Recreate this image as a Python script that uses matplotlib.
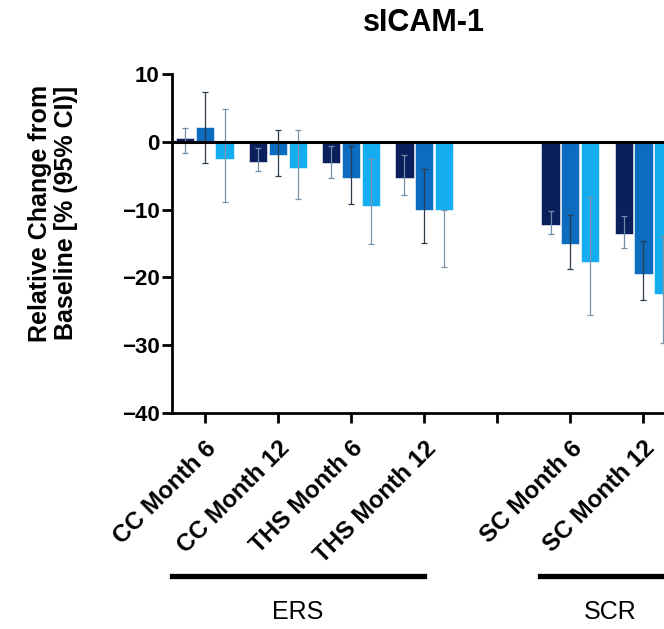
import numpy as np
import matplotlib
matplotlib.use("Agg")
import matplotlib.pyplot as plt

plt.rcParams['font.family'] = ['Liberation Sans', 'DejaVu Sans']

groups = ['CC Month 6', 'CC Month 12', 'THS Month 6', 'THS Month 12', '', 'SC Month 6', 'SC Month 12']
bar_groups = [0, 1, 2, 3, 5, 6]   # slot 4 is the empty gap between ERS and SCR

# relative change from baseline (%) for the three bar series
vals_1 = [0.5, -3.0, -3.2, -5.3, -12.3, -13.6]
vals_2 = [2.2, -2.0, -5.3, -10.0, -15.1, -19.5]
vals_3 = [-2.5, -3.8, -9.4, -10.0, -17.7, -22.5]

# 95% CI bounds
lo_1 = [-1.6, -4.3, -5.3, -7.8, -13.6, -15.6]
hi_1 = [2.1, -0.9, -0.6, -2.0, -10.2, -11.0]
lo_2 = [-3.2, -5.0, -9.2, -14.9, -18.8, -23.3]
hi_2 = [7.3, 1.7, -0.6, -4.0, -10.8, -14.6]
lo_3 = [-8.9, -8.5, -15.0, -18.4, -25.6, -29.7]
hi_3 = [4.8, 1.8, -2.5, -10.0, -8.1, -13.9]

study_names = ['ERS', 'SCR']

colors = ['#0b1f5c', '#0b6cc0', '#14aef0']
err_colors = ['#6f8ea8', '#2e3c4a', '#7d95a8']

fig = plt.figure(figsize=(6.64, 6.29), dpi=100)
# axes is wider than the figure: the original picture is cropped on the right
ax = fig.add_axes([172 / 664, 1 - 413 / 629, 508 / 664, 339 / 629])

x = np.array(bar_groups, dtype=float)
w = 0.25
off = 0.27
series = [(vals_1, lo_1, hi_1), (vals_2, lo_2, hi_2), (vals_3, lo_3, hi_3)]
for i, (v, lo, hi) in enumerate(series):
    v = np.array(v)
    yerr = np.vstack([v - np.array(lo), np.array(hi) - v])
    xs = x + (i - 1) * off
    ax.bar(xs, v, width=w, color=colors[i], edgecolor='white', linewidth=0.4, zorder=2)
    ax.errorbar(xs, v, yerr=yerr, fmt='none', ecolor=err_colors[i],
                elinewidth=0.9, capsize=2.5, capthick=0.9, zorder=3)

ax.axhline(0, color='black', lw=2.2, zorder=4)

ax.set_xlim(-0.45, 6.5)
ax.set_ylim(-40, 10)
ax.set_yticks([10, 0, -10, -20, -30, -40])
ax.set_xticks(range(len(groups)))
ax.set_xticklabels(groups, rotation=45, ha='right', rotation_mode='anchor',
                   fontsize=17.5, fontweight='bold')
for lab in ax.get_yticklabels():
    lab.set_fontweight('bold')
ax.tick_params(axis='y', labelsize=16, width=2, length=7, pad=2)
ax.tick_params(axis='x', width=2, length=7, pad=10)

for s in ['top', 'right']:
    ax.spines[s].set_visible(False)
for s in ['left', 'bottom']:
    ax.spines[s].set_linewidth(2)

ax.set_ylabel('Relative Change from\nBaseline [% (95% CI)]', fontsize=18,
              fontweight='bold', linespacing=1.1)
ax.yaxis.set_label_coords(-0.185, 0.59)

fig.text(424 / 664, 1 - 23 / 629, 'sICAM-1', ha='center', va='center',
         fontsize=22, fontweight='bold')

# study brackets under the tick labels
bracket_y = 1 - 576 / 629
text_y = 1 - 612 / 629
brackets = [(-0.45, 3.0), (4.58, 6.5)]
for name, (a, b) in zip(study_names, brackets):
    xa = ax.transData.transform((a, 0))[0] / fig.bbox.width
    xb = ax.transData.transform((b, 0))[0] / fig.bbox.width
    fig.add_artist(plt.Line2D([xa, xb], [bracket_y, bracket_y], color='black',
                              lw=3.8, transform=fig.transFigure))
    fig.text((xa + xb) / 2, text_y, name, ha='center', va='center', fontsize=18)

fig.savefig('out.png', dpi=100)
